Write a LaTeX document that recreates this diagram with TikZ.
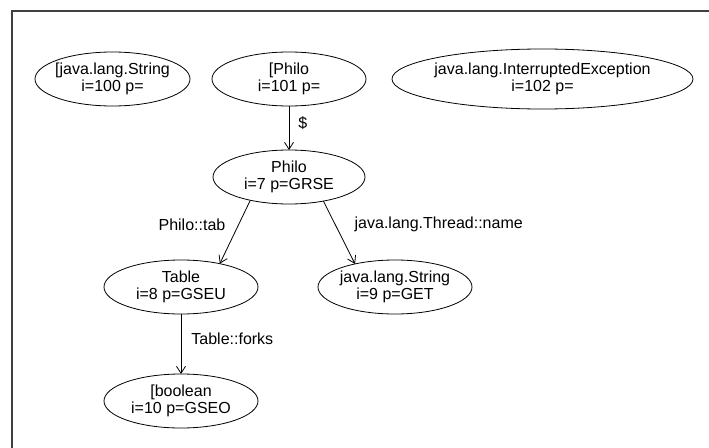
\documentclass[tikz,border=0pt]{standalone}
\usepackage{fontspec}
\setmainfont{Liberation Sans}
\usetikzlibrary{shapes.geometric,arrows.meta}
\begin{document}
\begin{tikzpicture}[x=1pt,y=-1pt,
  obj/.style={draw, ellipse, inner sep=0pt, outer sep=0pt, line width=0.8pt,
              minimum width=154pt, minimum height=54pt},
  lbl/.style={align=center, font=\fontsize{16}{17.5}\selectfont, inner sep=0pt},
  edge/.style={line width=0.8pt, -{Straight Barb[length=7pt,width=9pt]}},
  elbl/.style={font=\fontsize{16}{17.5}\selectfont, inner sep=0pt},
]
\useasboundingbox (0,0) rectangle (709,447);
\fill[white] (0,0) rectangle (709,447);
\draw[line width=1.2pt, black!75] (12,460) -- (12,11) -- (720,11);

% nodes
\node[obj, minimum width=155pt] (n100) at (112.5,79) {};
\node[lbl] (t100) at (n100) {[java.lang.String\\i=100 p=};
\node[obj] (n101) at (289,79) {};
\node[lbl] (t101) at (n101) {[Philo\\i=101 p=};
\node[obj, minimum width=301pt, minimum height=60pt] (n102) at (542.5,79) {};
\node[lbl] (t102) at (n102) {java.lang.InterruptedException\\i=102 p=};
\node[obj, minimum width=152pt] (n7) at (289,177) {};
\node[lbl] (t7) at (n7) {Philo\\i=7 p=GRSE};
\node[obj] (n8) at (181,287) {};
\node[lbl] (t8) at (n8) {Table\\i=8 p=GSEU};
\node[obj] (n9) at (395,287) {};
\node[lbl] (t9) at (n9) {java.lang.String\\i=9 p=GET};
\node[obj] (n10) at (181,401) {};
\node[lbl] (t10) at (n10) {[boolean\\i=10 p=GSEO};

% edges
\draw[edge] (n101.south) -- node[elbl,pos=0.4,right=9pt] (l1) {\$} (n7.north);
\draw[edge] (n7.211) -- node[elbl,pos=0.38,left=13pt] (l2) {Philo::tab} (n8.31);
\draw[edge] (n7.-35) -- node[elbl,pos=0.375,right=19pt] (l3) {java.lang.Thread::name} (n9.150);
\draw[edge] (n8.south) -- node[elbl,pos=0.42,right=10pt] (l4) {Table::forks} (n10.north);
\end{tikzpicture}
\end{document}
